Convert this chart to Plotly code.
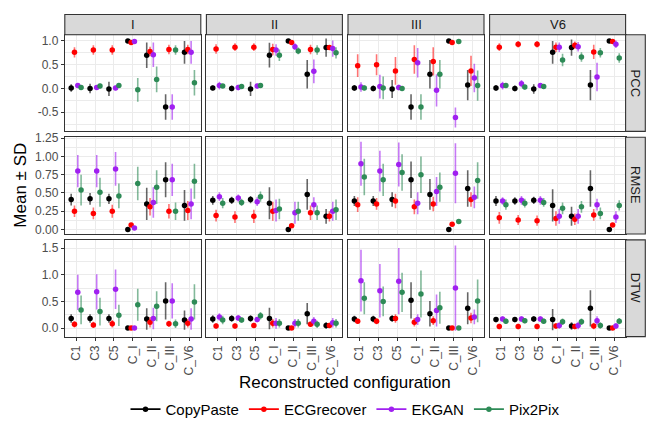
import plotly.graph_objects as go

# ---------------- data ----------------
CONFIGS = ["C1", "C3", "C5", "C_I", "C_II", "C_III", "C_V6"]
LEADS = ["I", "II", "III", "V6"]
METRICS = ["PCC", "RMSE", "DTW"]
MODELS = ["CopyPaste", "ECGrecover", "EKGAN", "Pix2Pix"]
COLORS = ["#000000", "#FF0000", "#A020F0", "#2E8B57"]
BAR_COLORS = ["rgba(0,0,0,0.6)", "rgba(255,0,0,0.55)", "rgba(160,32,240,0.6)", "rgba(46,139,87,0.6)"]

# each array: rows = CopyPaste, ECGrecover, EKGAN, Pix2Pix ; columns = CONFIGS
PCC_I_MEAN = [[0.01, 0.00, -0.01, 1.00, 0.70, -0.39, 0.76],
              [0.76, 0.81, 0.81, 0.97, 0.78, 0.82, 0.82],
              [0.06, 0.02, 0.01, 0.99, 0.71, -0.39, 0.76],
              [0.02, 0.05, 0.06, -0.03, 0.19, 0.81, 0.12]]
PCC_I_SD = [[0.08, 0.10, 0.15, 0.01, 0.27, 0.27, 0.24],
            [0.11, 0.10, 0.10, 0.01, 0.10, 0.10, 0.10],
            [0.05, 0.05, 0.05, 0.01, 0.26, 0.27, 0.24],
            [0.04, 0.05, 0.05, 0.25, 0.27, 0.10, 0.27]]
PCC_II_MEAN = [[0.01, 0.00, -0.01, 0.70, 1.00, 0.30, 0.86],
               [0.83, 0.87, 0.87, 0.82, 0.97, 0.82, 0.86],
               [0.06, 0.02, 0.05, 0.81, 0.88, 0.36, 0.84],
               [0.05, 0.04, 0.06, 0.70, 0.79, 0.81, 0.75]]
PCC_II_SD = [[0.05, 0.06, 0.15, 0.26, 0.01, 0.30, 0.19],
             [0.10, 0.08, 0.08, 0.12, 0.01, 0.10, 0.05],
             [0.08, 0.06, 0.05, 0.12, 0.07, 0.25, 0.17],
             [0.04, 0.04, 0.05, 0.12, 0.07, 0.10, 0.12]]
PCC_III_MEAN = [[0.01, 0.00, -0.01, -0.39, 0.30, 1.00, 0.07],
                [0.48, 0.50, 0.37, 0.61, 0.57, 0.97, 0.37],
                [0.03, 0.04, 0.02, 0.54, -0.04, -0.61, 0.22],
                [0.01, 0.01, 0.00, -0.39, 0.30, 0.99, 0.06]]
PCC_III_SD = [[0.06, 0.06, 0.19, 0.27, 0.30, 0.01, 0.32],
              [0.24, 0.22, 0.29, 0.30, 0.30, 0.01, 0.32],
              [0.10, 0.25, 0.06, 0.31, 0.34, 0.21, 0.30],
              [0.05, 0.24, 0.05, 0.27, 0.30, 0.01, 0.32]]
PCC_V6_MEAN = [[0.01, 0.00, -0.01, 0.76, 0.86, 0.07, 1.00],
               [0.87, 0.93, 0.93, 0.87, 0.91, 0.77, 0.99],
               [0.06, 0.10, 0.06, 0.87, 0.88, 0.24, 0.93],
               [0.06, 0.03, 0.04, 0.60, 0.66, 0.75, 0.64]]
PCC_V6_SD = [[0.06, 0.06, 0.10, 0.24, 0.17, 0.32, 0.01],
             [0.08, 0.07, 0.07, 0.10, 0.08, 0.15, 0.01],
             [0.08, 0.08, 0.05, 0.10, 0.10, 0.30, 0.08],
             [0.05, 0.05, 0.05, 0.13, 0.10, 0.10, 0.10]]

RMSE_I_MEAN = [[0.41, 0.42, 0.42, 0.00, 0.35, 0.68, 0.33],
               [0.25, 0.22, 0.25, 0.06, 0.31, 0.25, 0.26],
               [0.80, 0.80, 0.83, 0.02, 0.37, 0.68, 0.35],
               [0.54, 0.51, 0.46, 0.63, 0.58, 0.25, 0.66]]
RMSE_I_SD = [[0.08, 0.08, 0.07, 0.005, 0.22, 0.24, 0.21],
             [0.08, 0.08, 0.09, 0.005, 0.12, 0.10, 0.13],
             [0.22, 0.22, 0.23, 0.005, 0.21, 0.22, 0.21],
             [0.21, 0.20, 0.17, 0.23, 0.23, 0.12, 0.24]]
RMSE_II_MEAN = [[0.40, 0.40, 0.41, 0.36, 0.00, 0.48, 0.18],
                [0.19, 0.17, 0.18, 0.25, 0.05, 0.23, 0.18],
                [0.45, 0.43, 0.38, 0.26, 0.23, 0.34, 0.25],
                [0.36, 0.37, 0.45, 0.28, 0.25, 0.23, 0.27]]
RMSE_II_SD = [[0.06, 0.05, 0.05, 0.22, 0.005, 0.21, 0.10],
              [0.08, 0.08, 0.09, 0.13, 0.005, 0.10, 0.07],
              [0.06, 0.05, 0.06, 0.15, 0.15, 0.10, 0.13],
              [0.07, 0.05, 0.07, 0.14, 0.13, 0.10, 0.14]]
RMSE_III_MEAN = [[0.39, 0.39, 0.41, 0.68, 0.48, 0.00, 0.56],
                 [0.34, 0.35, 0.39, 0.31, 0.35, 0.07, 0.41],
                 [0.90, 0.80, 0.89, 0.36, 0.52, 0.77, 0.44],
                 [0.72, 0.68, 0.78, 0.75, 0.58, 0.11, 0.67]]
RMSE_III_SD = [[0.07, 0.07, 0.10, 0.25, 0.21, 0.005, 0.25],
               [0.10, 0.08, 0.10, 0.10, 0.10, 0.01, 0.10],
               [0.30, 0.28, 0.30, 0.15, 0.20, 0.41, 0.15],
               [0.25, 0.22, 0.25, 0.25, 0.20, 0.01, 0.25]]
RMSE_V6_MEAN = [[0.39, 0.39, 0.40, 0.33, 0.18, 0.56, 0.00],
                [0.16, 0.13, 0.12, 0.15, 0.14, 0.20, 0.06],
                [0.39, 0.40, 0.40, 0.18, 0.18, 0.34, 0.17],
                [0.34, 0.36, 0.37, 0.29, 0.31, 0.22, 0.33]]
RMSE_V6_SD = [[0.07, 0.05, 0.05, 0.22, 0.13, 0.25, 0.005],
              [0.08, 0.07, 0.07, 0.10, 0.08, 0.08, 0.01],
              [0.05, 0.06, 0.06, 0.10, 0.10, 0.08, 0.08],
              [0.07, 0.06, 0.06, 0.08, 0.08, 0.08, 0.07]]

DTW_I_MEAN = [[0.18, 0.18, 0.18, 0.00, 0.17, 0.51, 0.15],
              [0.07, 0.06, 0.08, 0.00, 0.11, 0.08, 0.09],
              [0.67, 0.68, 0.73, 0.00, 0.18, 0.51, 0.17],
              [0.34, 0.31, 0.24, 0.44, 0.41, 0.08, 0.49]]
DTW_I_SD = [[0.08, 0.08, 0.08, 0.01, 0.20, 0.35, 0.18],
            [0.06, 0.06, 0.07, 0.01, 0.10, 0.06, 0.08],
            [0.33, 0.33, 0.37, 0.01, 0.20, 0.33, 0.20],
            [0.27, 0.26, 0.20, 0.30, 0.28, 0.08, 0.33]]
DTW_II_MEAN = [[0.17, 0.18, 0.18, 0.18, 0.00, 0.27, 0.05],
               [0.04, 0.04, 0.05, 0.09, 0.00, 0.07, 0.05],
               [0.21, 0.19, 0.16, 0.09, 0.09, 0.13, 0.10],
               [0.15, 0.15, 0.23, 0.09, 0.09, 0.07, 0.09]]
DTW_II_SD = [[0.07, 0.06, 0.06, 0.20, 0.01, 0.20, 0.06],
             [0.05, 0.05, 0.05, 0.08, 0.01, 0.05, 0.05],
             [0.07, 0.05, 0.05, 0.10, 0.08, 0.08, 0.09],
             [0.08, 0.05, 0.07, 0.08, 0.08, 0.07, 0.08]]
DTW_III_MEAN = [[0.17, 0.17, 0.18, 0.52, 0.27, 0.00, 0.37],
                [0.13, 0.13, 0.18, 0.11, 0.14, 0.00, 0.19],
                [0.89, 0.70, 0.88, 0.16, 0.33, 0.75, 0.21],
                [0.56, 0.50, 0.67, 0.64, 0.38, 0.00, 0.51]]
DTW_III_SD = [[0.06, 0.06, 0.06, 0.34, 0.24, 0.01, 0.30],
              [0.05, 0.06, 0.08, 0.08, 0.08, 0.01, 0.10],
              [0.58, 0.50, 0.62, 0.10, 0.30, 0.80, 0.14],
              [0.30, 0.28, 0.37, 0.44, 0.30, 0.02, 0.40]]
DTW_V6_MEAN = [[0.16, 0.16, 0.17, 0.16, 0.04, 0.37, 0.00],
               [0.03, 0.03, 0.03, 0.04, 0.03, 0.04, 0.00],
               [0.17, 0.17, 0.17, 0.05, 0.05, 0.14, 0.04],
               [0.13, 0.14, 0.13, 0.12, 0.12, 0.05, 0.13]]
DTW_V6_SD = [[0.05, 0.05, 0.05, 0.20, 0.07, 0.34, 0.01],
             [0.05, 0.05, 0.05, 0.05, 0.05, 0.06, 0.01],
             [0.05, 0.05, 0.05, 0.06, 0.07, 0.08, 0.05],
             [0.05, 0.05, 0.05, 0.06, 0.06, 0.06, 0.06]]

DATA = {
    ("PCC", "I"): (PCC_I_MEAN, PCC_I_SD), ("PCC", "II"): (PCC_II_MEAN, PCC_II_SD),
    ("PCC", "III"): (PCC_III_MEAN, PCC_III_SD), ("PCC", "V6"): (PCC_V6_MEAN, PCC_V6_SD),
    ("RMSE", "I"): (RMSE_I_MEAN, RMSE_I_SD), ("RMSE", "II"): (RMSE_II_MEAN, RMSE_II_SD),
    ("RMSE", "III"): (RMSE_III_MEAN, RMSE_III_SD), ("RMSE", "V6"): (RMSE_V6_MEAN, RMSE_V6_SD),
    ("DTW", "I"): (DTW_I_MEAN, DTW_I_SD), ("DTW", "II"): (DTW_II_MEAN, DTW_II_SD),
    ("DTW", "III"): (DTW_III_MEAN, DTW_III_SD), ("DTW", "V6"): (DTW_V6_MEAN, DTW_V6_SD),
}

Y_TICKS = {
    "PCC": ([-0.5, 0.0, 0.5, 1.0], ["-0.5", "0.0", "0.5", "1.0"], [-0.75, -0.25, 0.25, 0.75]),
    "RMSE": ([0, 0.25, 0.5, 0.75, 1.0, 1.25], ["0.00", "0.25", "0.50", "0.75", "1.00", "1.25"],
             [0.125, 0.375, 0.625, 0.875, 1.125]),
    "DTW": ([0, 0.5, 1.0, 1.5], ["0.0", "0.5", "1.0", "1.5"], [0.25, 0.75, 1.25]),
}
Y_RANGE = {"PCC": [-0.905, 1.132], "RMSE": [-0.061, 1.264], "DTW": [-0.16, 1.654]}

# ---------------- layout geometry (pixels) ----------------
W, H = 649, 430
COL_LEFT = [64.8, 206.4, 348.0, 489.6]
PANEL_W = 136.0
ROW_TOP = [29.3, 134.0, 238.9]
PANEL_H = 98.8
STRIP_TOP = 8.7
STRIP_RIGHT = 645.3
DODGE = [-0.2625, -0.0875, 0.0875, 0.2625]

FONT = "Liberation Sans, Arial, sans-serif"

def px_x(p):
    return p / W

def px_y(p):
    return 1 - p / H

fig = go.Figure()
layout = {}
shapes = []
annotations = []

for r, metric in enumerate(METRICS):
    for c, lead in enumerate(LEADS):
        n = r * 4 + c + 1
        xa = "x" if n == 1 else f"x{n}"
        ya = "y" if n == 1 else f"y{n}"
        means, sds = DATA[(metric, lead)]
        for k, model in enumerate(MODELS):
            xs = [i + DODGE[k] for i in range(len(CONFIGS))]
            fig.add_trace(go.Scatter(
                x=xs, y=means[k], mode="markers", xaxis=xa, yaxis=ya,
                marker=dict(color=COLORS[k], size=5.5),
                error_y=dict(type="data", array=sds[k], visible=True, width=0,
                             thickness=1.6, color=BAR_COLORS[k]),
                showlegend=False, hoverinfo="skip"))
        tv, tt, minor = Y_TICKS[metric]
        l = COL_LEFT[c]
        t = ROW_TOP[r]
        layout["xaxis" if n == 1 else f"xaxis{n}"] = dict(
            domain=[px_x(l), px_x(l + PANEL_W)], anchor=ya, range=[-0.6, 6.6],
            tickvals=list(range(len(CONFIGS))), ticktext=CONFIGS,
            showticklabels=(r == 2), ticks="outside" if r == 2 else "",
            ticklen=3, tickcolor="#333333", tickangle=-90,
            tickfont=dict(family=FONT, size=12, color="#4D4D4D"),
            showgrid=True, gridcolor="#EBEBEB", gridwidth=1, zeroline=False,
            showline=True, mirror=True, linecolor="#333333", linewidth=1.1)
        layout["yaxis" if n == 1 else f"yaxis{n}"] = dict(
            domain=[px_y(t + PANEL_H), px_y(t)], anchor=xa, range=Y_RANGE[metric],
            tickvals=tv, ticktext=tt, showticklabels=(c == 0),
            ticks="outside" if c == 0 else "", ticklen=3, tickcolor="#333333",
            tickfont=dict(family=FONT, size=12, color="#4D4D4D"),
            showgrid=True, gridcolor="#EBEBEB", gridwidth=1, zeroline=False,
            minor=dict(tickvals=minor, showgrid=True, gridcolor="#EBEBEB", gridwidth=0.5),
            showline=True, mirror=True, linecolor="#333333", linewidth=1.1)

# strips on top
for c, lead in enumerate(LEADS):
    l = COL_LEFT[c]
    shapes.append(dict(type="rect", xref="paper", yref="paper",
                       x0=px_x(l), x1=px_x(l + PANEL_W), y0=px_y(ROW_TOP[0]), y1=px_y(STRIP_TOP),
                       fillcolor="#D9D9D9", line=dict(color="#333333", width=1.1), layer="above"))
    annotations.append(dict(xref="paper", yref="paper", x=px_x(l + PANEL_W / 2),
                            y=px_y((STRIP_TOP + ROW_TOP[0]) / 2), text=lead, showarrow=False,
                            font=dict(family=FONT, size=13, color="#1A1A1A"),
                            xanchor="center", yanchor="middle"))
# strips on right
right_edge = COL_LEFT[3] + PANEL_W
for r, metric in enumerate(METRICS):
    t = ROW_TOP[r]
    shapes.append(dict(type="rect", xref="paper", yref="paper",
                       x0=px_x(right_edge), x1=px_x(STRIP_RIGHT), y0=px_y(t + PANEL_H), y1=px_y(t),
                       fillcolor="#D9D9D9", line=dict(color="#333333", width=1.1), layer="above"))
    annotations.append(dict(xref="paper", yref="paper", x=px_x((right_edge + STRIP_RIGHT) / 2),
                            y=px_y(t + PANEL_H / 2), text=metric, showarrow=False, textangle=90,
                            font=dict(family=FONT, size=13, color="#1A1A1A"),
                            xanchor="center", yanchor="middle"))

# axis titles
annotations.append(dict(xref="paper", yref="paper", x=px_x((COL_LEFT[0] + right_edge) / 2),
                        y=px_y(385), text="Reconstructed configuration", showarrow=False,
                        font=dict(family=FONT, size=17, color="#000000"),
                        xanchor="center", yanchor="middle"))
annotations.append(dict(xref="paper", yref="paper", x=px_x(21),
                        y=px_y((ROW_TOP[0] + ROW_TOP[2] + PANEL_H) / 2), text="Mean ± SD",
                        showarrow=False, textangle=-90,
                        font=dict(family=FONT, size=17, color="#000000"),
                        xanchor="center", yanchor="middle"))

# legend entries
for k, model in enumerate(MODELS):
    fig.add_trace(go.Scatter(x=[None], y=[None], mode="lines+markers", name=model,
                             line=dict(color=COLORS[k], width=1.6),
                             marker=dict(color=COLORS[k], size=5.5), showlegend=True))

fig.update_layout(
    width=W, height=H, margin=dict(l=0, r=0, t=0, b=0),
    paper_bgcolor="white", plot_bgcolor="white",
    shapes=shapes, annotations=annotations,
    legend=dict(orientation="h", x=px_x(345), xanchor="center", y=px_y(412), yanchor="middle",
                font=dict(family=FONT, size=15, color="#000000"), itemwidth=30,
                bgcolor="rgba(0,0,0,0)"),
    **layout)

fig.write_html("out.html")
